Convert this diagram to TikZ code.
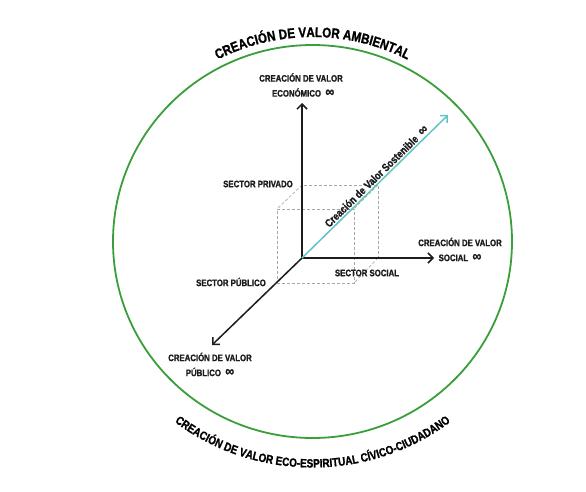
\documentclass[tikz,border=0pt]{standalone}
\usepackage{fontspec}
\setmainfont{Liberation Sans}[FakeStretch=0.83, BoldFont={Liberation Sans Bold}, BoldFeatures={FakeBold=1.2}]
\usetikzlibrary{arrows.meta,decorations.text}
\definecolor{ringgreen}{RGB}{58,158,58}
\definecolor{tealline}{RGB}{100,196,196}
\definecolor{ink}{RGB}{28,28,28}
\newcommand{\lblfont}{\fontsize{9.4}{15}\selectfont\bfseries}
\newcommand{\infsym}{{\fontsize{15}{10}\selectfont ∞}}
\begin{document}
\begin{tikzpicture}[x=1pt,y=1pt,
  axisline/.style={line width=1.5pt, draw=ink, -{Straight Barb[length=5pt,width=10pt]}},
  tealarrow/.style={line width=1.5pt, draw=tealline, -{Straight Barb[length=5pt,width=10pt]}},
  cubeedge/.style={draw=gray!70, line width=0.6pt, dash pattern=on 3pt off 2pt},
  lbl/.style={font=\lblfont, text=ink, align=center, inner sep=0pt},
  ring/.style={draw=ringgreen, line width=1.8pt}]
\useasboundingbox (0,0) rectangle (586,491);
\fill[white] (0,0) rectangle (586,491);
% circle
\coordinate (C) at (312.5,249.5);
\draw[ring] (C) ellipse [x radius=199.5, y radius=196.5];
% arc texts
\path[decorate, decoration={text along path, text align=center,
  text={|\fontsize{14}{14}\selectfont\bfseries|CREACIÓN DE VALOR AMBIENTAL}}]
  (C) ++(120:207.5 and 204.5) arc[start angle=120, end angle=60, x radius=207.5, y radius=204.5];
\path[decorate, decoration={text along path, text align=center,
  text={|\fontsize{12}{12}\selectfont\bfseries|CREACIÓN DE VALOR ECO-ESPIRITUAL CÍVICO-CIUDADANO}}]
  (C) ++(225:229 and 226) arc[start angle=225, end angle=315, x radius=229, y radius=226];
% cube
\coordinate (b1) at (302,233); \coordinate (b2) at (378,233);
\coordinate (b3) at (378,306); \coordinate (b4) at (302,306);
\coordinate (f1) at (277,208); \coordinate (f2) at (354,208);
\coordinate (f3) at (354,282); \coordinate (f4) at (277,282);
\draw[cubeedge] (b1) -- (b2) -- (b3) -- (b4) -- cycle;
\draw[cubeedge] (f1) -- (f2) -- (f3) -- (f4) -- cycle;
\draw[cubeedge] (b1) -- (f1) (b2) -- (f2) (b3) -- (f3) (b4) -- (f4);
% axes
\coordinate (O) at (302,233);
\coordinate (E) at (302,388);
\coordinate (S) at (434,233);
\coordinate (P) at (212,146);
\coordinate (T) at (448,376);
\draw[axisline] (O) -- (E);
\draw[axisline] (O) -- (S);
\draw[axisline] (O) -- (P);
\draw[tealarrow] (O) -- node[pos=0.54, sloped, above=1.5pt, font=\fontsize{11}{11}\selectfont\bfseries, text=ink, inner sep=0pt] (sost) {Creación de Valor Sostenible\ \ \infsym} (T);
% labels
\node[lbl] (econ) at (301,406) {CREACIÓN DE VALOR\\\ \ ECONÓMICO\ \ \infsym};
\node[lbl] (soc) at (460,241.5) {CREACIÓN DE VALOR\\SOCIAL\ \ \infsym};
\node[lbl] (pub) at (210,126.5) {CREACIÓN DE VALOR\\PÚBLICO\ \ \infsym};
\node[lbl] (spriv) at (258,307) {SECTOR PRIVADO};
\node[lbl] (ssoc) at (367,218) {SECTOR SOCIAL};
\node[lbl] (spub) at (231,209) {SECTOR PÚBLICO};
\end{tikzpicture}
\end{document}
